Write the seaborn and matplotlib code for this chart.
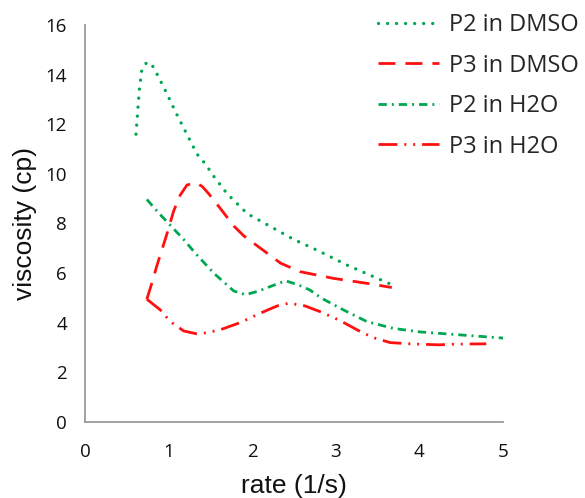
import matplotlib
matplotlib.use("Agg")
import matplotlib.pyplot as plt
import seaborn as sns
import pandas as pd

# Viscosity curves (rate in 1/s, viscosity in cp)
p2_dmso_rate = [0.61, 0.63, 0.65, 0.68, 0.74, 0.80, 0.85, 0.97, 1.09, 1.21, 1.34, 1.44,
                1.54, 1.70, 1.94, 2.18, 2.49, 2.81, 3.13, 3.64]
p2_dmso_visc = [11.6, 12.5, 13.4, 14.2, 14.5, 14.4, 14.1, 13.3, 12.45, 11.65, 10.8, 10.4,
                9.9, 9.2, 8.4, 7.95, 7.37, 6.87, 6.33, 5.58]

p3_dmso_rate = [0.74, 0.80, 0.86, 0.92, 0.97, 1.06, 1.14, 1.22, 1.32, 1.40, 1.48, 1.62,
                1.78, 1.90, 2.10, 2.34, 2.57, 2.97, 3.37, 3.67]
p3_dmso_visc = [4.95, 5.6, 6.3, 6.94, 7.47, 8.5, 9.15, 9.55, 9.65, 9.5, 9.2, 8.6,
                7.9, 7.5, 7.0, 6.4, 6.06, 5.79, 5.59, 5.42]

p2_h2o_rate = [0.74, 0.88, 1.00, 1.18, 1.32, 1.54, 1.78, 1.92, 2.08, 2.24, 2.40, 2.55,
               2.69, 2.83, 3.09, 3.37, 3.69, 4.01, 4.33, 4.65, 5.01]
p2_h2o_visc = [8.97, 8.43, 8.0, 7.36, 6.8, 6.0, 5.28, 5.13, 5.28, 5.49, 5.69, 5.53,
               5.32, 4.99, 4.52, 4.05, 3.77, 3.63, 3.55, 3.47, 3.38]

p3_h2o_rate = [0.74, 0.90, 1.02, 1.18, 1.34, 1.46, 1.62, 1.86, 2.10, 2.30, 2.44, 2.63,
               2.81, 3.05, 3.29, 3.45, 3.65, 3.89, 4.23, 4.45, 4.80]
p3_h2o_visc = [4.95, 4.52, 4.05, 3.67, 3.55, 3.6, 3.72, 4.01, 4.39, 4.68, 4.79, 4.68,
               4.45, 4.09, 3.65, 3.40, 3.20, 3.15, 3.11, 3.14, 3.15]

series_names = ["P2 in DMSO", "P3 in DMSO", "P2 in H2O", "P3 in H2O"]
x_ticks = [0, 1, 2, 3, 4, 5]
y_ticks = [0, 2, 4, 6, 8, 10, 12, 14, 16]

GREEN = "#00A651"
RED = "#FF1010"
LW = 2.0

styles = {
    "P2 in DMSO": dict(color=GREEN, dashes=(0.01, 2.7), dash_capstyle="round", lw=2.4),
    "P3 in DMSO": dict(color=RED, dashes=(6.1, 3.6), lw=LW),
    "P2 in H2O": dict(color=GREEN, dashes=(3.0, 1.8, 0.7, 1.8), lw=LW),
    "P3 in H2O": dict(color=RED, dashes=(6.8, 2.5, 0.7, 2.5, 0.7, 2.5), lw=LW),
}

frames = []
for name, xs, ys in zip(series_names,
                        [p2_dmso_rate, p3_dmso_rate, p2_h2o_rate, p3_h2o_rate],
                        [p2_dmso_visc, p3_dmso_visc, p2_h2o_visc, p3_h2o_visc]):
    frames.append(pd.DataFrame({"rate": xs, "viscosity": ys, "series": name}))
df = pd.concat(frames, ignore_index=True)

sns.set_style("white")
plt.rcParams["font.family"] = ["Open Sans", "DejaVu Sans"]

fig = plt.figure(figsize=(5.85, 4.98), dpi=100)
ax = fig.add_axes([85 / 585, 1 - 422 / 498, 418 / 585, 397 / 498])

for name in series_names:
    sub = df[df["series"] == name]
    st = styles[name]
    sns.lineplot(data=sub, x="rate", y="viscosity", sort=False, estimator=None,
                 ax=ax, color=st["color"], linewidth=st["lw"], label=name)
    line = ax.get_lines()[-1]
    line.set_dashes(st["dashes"])
    if "dash_capstyle" in st:
        line.set_dash_capstyle(st["dash_capstyle"])

ax.set_xlim(0, 5)
ax.set_ylim(0, 16)
ax.set_xticks(x_ticks)
ax.set_yticks(y_ticks)
ax.set_xticklabels([str(v) for v in x_ticks])
ax.set_yticklabels([str(v) for v in y_ticks])

for side in ["top", "right"]:
    ax.spines[side].set_visible(False)
for side in ["left", "bottom"]:
    ax.spines[side].set_color("#9A9A9A")
    ax.spines[side].set_linewidth(1.3)

ax.tick_params(axis="both", direction="out", length=5, width=1.3, color="#9A9A9A",
               labelsize=13.5, labelcolor="#111111")
ax.tick_params(axis="y", pad=8)
ax.tick_params(axis="x", pad=10)

ax.set_xlabel("rate (1/s)", fontsize=19, family="Liberation Sans", color="#111111")
ax.set_ylabel("viscosity (cp)", fontsize=19, family="Liberation Sans", color="#111111")
ax.xaxis.label.set_va("baseline")
ax.xaxis.set_label_coords(0.5, (422 - 493) / 397)
ax.yaxis.label.set_va("center")
ax.yaxis.set_label_coords((25 - 85) / 418, 0.5)

ax.get_legend().remove()
handles, labels = ax.get_legend_handles_labels()
fig.legend(handles, labels, loc="upper left", bbox_to_anchor=(378 / 585, 1 - 13 / 498),
           frameon=False, fontsize=17, handlelength=2.6, handletextpad=0.4,
           labelspacing=0.7, borderpad=0, borderaxespad=0)

fig.savefig("out.png", dpi=100)
